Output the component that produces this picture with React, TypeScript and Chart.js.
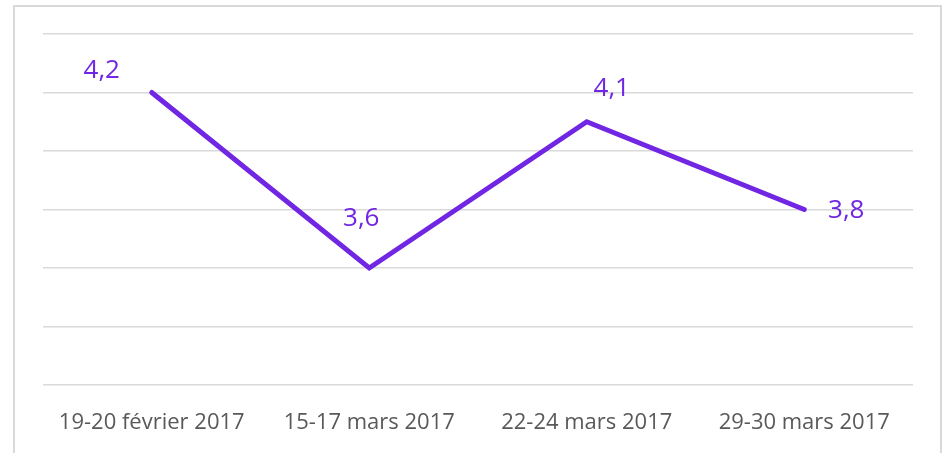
import React, { useEffect, useRef } from "react";
import { Chart, registerables } from "chart.js";

Chart.register(...registerables);

const categories = ["19-20 février 2017", "15-17 mars 2017", "22-24 mars 2017", "29-30 mars 2017"];
const values = [4.2, 3.6, 4.1, 3.8];
const valueLabels = ["4,2", "3,6", "4,1", "3,8"];
const yMin = 3.2;
const yMax = 4.4;
const yStep = 0.2;

const PURPLE = "rgb(112, 38, 226)";
const labelOffsets: [number, number][] = [[-50, -22], [-8, -49], [25, -33], [42, 1]];

const framePlugin = {
  id: "frame",
  beforeDraw(chart: any) {
    const ctx = chart.ctx;
    ctx.save();
    ctx.fillStyle = "#ffffff";
    ctx.fillRect(0, 0, chart.width, chart.height);
    ctx.strokeStyle = "#d9d9d9";
    ctx.lineWidth = 2;
    ctx.strokeRect(14, 6, 927, 460);
    ctx.restore();
  },
};

const labelPlugin = {
  id: "valueLabels",
  afterDatasetsDraw(chart: any) {
    const ctx = chart.ctx;
    const meta = chart.getDatasetMeta(0);
    ctx.save();
    ctx.fillStyle = PURPLE;
    ctx.font = "26px 'Open Sans'";
    ctx.textAlign = "center";
    ctx.textBaseline = "middle";
    meta.data.forEach((pt: any, i: number) => {
      const [dx, dy] = labelOffsets[i];
      ctx.fillText(valueLabels[i], pt.x + dx, pt.y + dy);
    });
    ctx.restore();
  },
};

export default function App() {
  const ref = useRef<HTMLCanvasElement>(null);
  useEffect(() => {
    document.body.style.margin = "0";
    const chart = new Chart(ref.current!, {
      type: "line",
      data: {
        labels: categories,
        datasets: [
          {
            data: values,
            borderColor: PURPLE,
            borderWidth: 5,
            pointRadius: 0,
            tension: 0,
            borderCapStyle: "round",
            borderJoinStyle: "miter",
          },
        ],
      },
      options: {
        responsive: false,
        animation: false,
        layout: { padding: { left: 43, right: 34, top: 34, bottom: 0 } },
        plugins: { legend: { display: false }, tooltip: { enabled: false } },
        scales: {
          x: {
            offset: true,
            grid: { display: false, drawTicks: false },
            border: { display: false },
            ticks: {
              color: "#595959",
              font: { family: "'Open Sans'", size: 22 },
              padding: 25,
              maxRotation: 0,
              autoSkip: false,
            },
            afterFit: (s: any) => {
              s.height = 68;
            },
          },
          y: {
            min: yMin,
            max: yMax,
            ticks: { display: false, stepSize: yStep },
            grid: { color: "#d9d9d9", lineWidth: 1.5, drawTicks: false },
            border: { display: false },
            afterFit: (s: any) => {
              s.width = 0;
            },
          },
        },
      },
      plugins: [framePlugin, labelPlugin],
    });
    return () => chart.destroy();
  }, []);
  return <canvas ref={ref} width={947} height={453} style={{ display: "block" }} />;
}
